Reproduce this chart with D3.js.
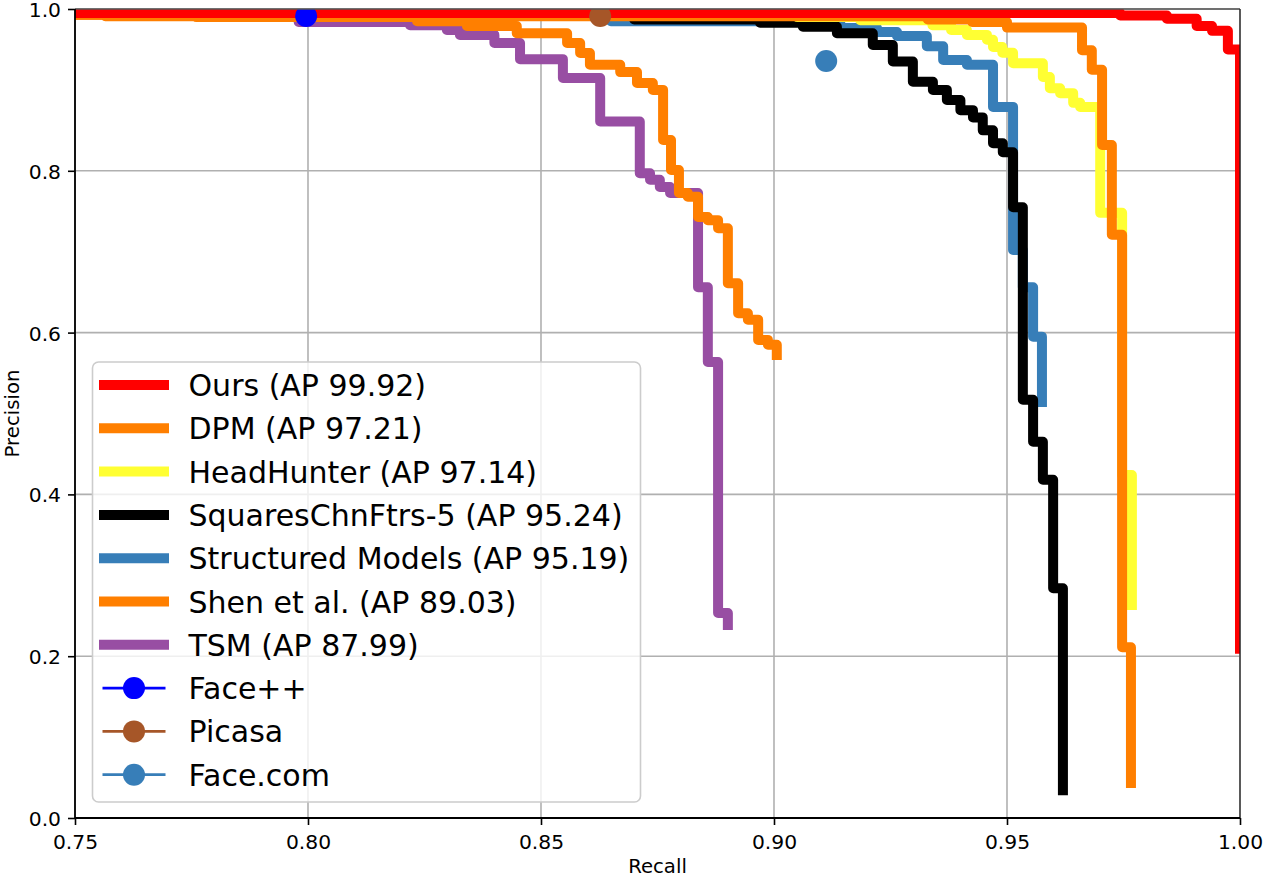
<!DOCTYPE html>
<html>
<head>
<meta charset="utf-8">
<script src="https://cdn.jsdelivr.net/npm/d3@7"></script>
<style>
  body { margin: 0; background: #fff; }
  svg { display: block; font-family: "DejaVu Sans", sans-serif; }
</style>
</head>
<body>
<svg id="chart"></svg>
<script>
// Precision/recall step points: [recall, precision]
const oursPR = [[0.75,0.995],[0.9743,0.992],[0.9843,0.988],[0.9907,0.979],[0.9940,0.973],[0.9974,0.950],[1.0,0.203]];
const dpmPR = [[0.75,0.993],[0.7565,0.992],[0.80,0.991],[0.933,0.987],[0.9425,0.984],[0.950,0.977],[0.9661,0.949],[0.9682,0.925],[0.9704,0.832],[0.9725,0.721],[0.9747,0.211],[0.9766,0.037]];
const headHunterPR = [[0.75,0.995],[0.905,0.990],[0.9185,0.986],[0.934,0.980],[0.938,0.974],[0.9414,0.968],[0.9457,0.962],[0.947,0.953],[0.949,0.946],[0.9513,0.933],[0.9577,0.916],[0.9592,0.902],[0.9614,0.896],[0.9642,0.884],[0.9657,0.879],[0.970,0.748],[0.9747,0.424],[0.9768,0.257]];
const squaresPR = [[0.75,0.994],[0.870,0.987],[0.897,0.983],[0.9062,0.978],[0.9135,0.970],[0.9212,0.9555],[0.9255,0.935],[0.9298,0.910],[0.9341,0.900],[0.9371,0.8875],[0.940,0.875],[0.9427,0.866],[0.9448,0.850],[0.947,0.834],[0.9491,0.823],[0.9513,0.755],[0.9534,0.517],[0.9556,0.465],[0.9577,0.418],[0.9599,0.284],[0.962,0.028]];
const structuredPR = [[0.75,0.994],[0.865,0.985],[0.9142,0.9765],[0.9221,0.9715],[0.9264,0.9666],[0.9328,0.954],[0.9363,0.937],[0.9414,0.931],[0.947,0.879],[0.9513,0.702],[0.9534,0.656],[0.9556,0.595],[0.9575,0.508]];
const shenPR = [[0.75,0.993],[0.7565,0.991],[0.776,0.990],[0.8234,0.985],[0.8341,0.979],[0.8448,0.970],[0.8556,0.958],[0.8584,0.9456],[0.8605,0.931],[0.867,0.922],[0.8706,0.9085],[0.874,0.900],[0.8762,0.838],[0.8779,0.801],[0.8796,0.7726],[0.8815,0.768],[0.8837,0.743],[0.8858,0.739],[0.888,0.729],[0.8901,0.661],[0.8923,0.624],[0.8944,0.616],[0.8966,0.591],[0.8987,0.585],[0.9006,0.566]];
const tsmPR = [[0.75,0.994],[0.798,0.984],[0.8219,0.980],[0.8298,0.974],[0.8326,0.968],[0.8400,0.958],[0.8455,0.938],[0.8547,0.9147],[0.8627,0.861],[0.8712,0.797],[0.8734,0.789],[0.8755,0.780],[0.8777,0.7726],[0.8837,0.656],[0.8858,0.5637],[0.888,0.2534],[0.8901,0.2324]];

const seriesNames = ['Ours (AP 99.92)', 'DPM (AP 97.21)', 'HeadHunter (AP 97.14)', 'SquaresChnFtrs-5 (AP 95.24)',
  'Structured Models (AP 95.19)', 'Shen et al. (AP 89.03)', 'TSM (AP 87.99)'];
const seriesValues = [oursPR, dpmPR, headHunterPR, squaresPR, structuredPR, shenPR, tsmPR];

// single operating points of commercial detectors
const detectorNames = ['Face++', 'Picasa', 'Face.com'];
const detectorPoints = [[0.7996, 0.9913], [0.8627, 0.9913], [0.9112, 0.9357]];

const xTicks = [0.75, 0.80, 0.85, 0.90, 0.95, 1.00];
const yTicks = [0.0, 0.2, 0.4, 0.6, 0.8, 1.0];

// styling
const seriesColors = ['#ff0000', '#ff7f00', '#ffff33', '#000000', '#377eb8', '#ff7f00', '#984ea3'];
const detectorColors = ['#0000ff', '#a65628', '#377eb8'];

const width = 1263, height = 878;
const margin = { top: 9, right: 23, bottom: 60, left: 75 };
const innerWidth = width - margin.left - margin.right;
const innerHeight = height - margin.top - margin.bottom;
const tickFont = 20.3;

const svg = d3.select('#chart').attr('width', width).attr('height', height);

const x = d3.scaleLinear().domain([0.75, 1.0]).range([0, innerWidth]);
const y = d3.scaleLinear().domain([0, 1.0]).range([innerHeight, 0]);

svg.append('defs').append('clipPath').attr('id', 'plotClip')
  .append('rect').attr('width', innerWidth).attr('height', innerHeight);

const g = svg.append('g').attr('transform', `translate(${margin.left},${margin.top})`);

// grid
g.append('g').selectAll('line').data(xTicks).enter().append('line')
  .attr('x1', d => x(d)).attr('x2', d => x(d)).attr('y1', 0).attr('y2', innerHeight)
  .attr('stroke', '#b0b0b0').attr('stroke-width', 1.6);
g.append('g').selectAll('line').data(yTicks).enter().append('line')
  .attr('y1', d => y(d)).attr('y2', d => y(d)).attr('x1', 0).attr('x2', innerWidth)
  .attr('stroke', '#b0b0b0').attr('stroke-width', 1.6);

// curves, drawn last-to-first so "Ours" sits on top
const line = d3.line()
  .x(d => x(d[0]))
  .y(d => y(d[1]))
  .curve(d3.curveStepAfter);

const plot = g.append('g').attr('clip-path', 'url(#plotClip)');
const order = d3.range(seriesValues.length).reverse();
order.forEach(i => {
  plot.append('path')
    .attr('d', line(seriesValues[i]))
    .attr('fill', 'none')
    .attr('stroke', seriesColors[i])
    .attr('stroke-width', 10)
    .attr('stroke-linejoin', 'round')
    .attr('stroke-linecap', 'butt');
});

plot.selectAll('.detector').data(detectorPoints).enter().append('circle')
  .attr('class', 'detector')
  .attr('cx', d => x(d[0]))
  .attr('cy', d => y(d[1]))
  .attr('r', 11)
  .attr('fill', (d, i) => detectorColors[i]);

// axes
const xAxis = g.append('g')
  .attr('transform', `translate(0,${innerHeight})`)
  .call(d3.axisBottom(x).tickValues(xTicks).tickFormat(d3.format('.2f')).tickSize(7).tickSizeOuter(0));
const yAxis = g.append('g')
  .call(d3.axisLeft(y).tickValues(yTicks).tickFormat(d3.format('.1f')).tickSize(7).tickSizeOuter(0));

[xAxis, yAxis].forEach(ax => {
  ax.select('.domain').remove();
  ax.selectAll('line').attr('stroke', '#000').attr('stroke-width', 1.6);
  ax.selectAll('text').attr('font-size', tickFont).attr('fill', '#000').attr('font-family', '"DejaVu Sans", sans-serif');
});
// explicit label placement (baseline offsets in px)
xAxis.selectAll('text').attr('y', 31).attr('dy', null);
yAxis.selectAll('text').attr('x', -14).attr('dy', 7.4);

// spines
g.append('line').attr('x1', 0).attr('x2', innerWidth).attr('y1', 0).attr('y2', 0).attr('stroke', '#555').attr('stroke-width', 1.3);
g.append('line').attr('x1', innerWidth).attr('x2', innerWidth).attr('y1', 0).attr('y2', innerHeight).attr('stroke', '#222').attr('stroke-width', 1.3);
g.append('line').attr('x1', 0).attr('x2', 0).attr('y1', 0).attr('y2', innerHeight).attr('stroke', '#000').attr('stroke-width', 1.8);
g.append('line').attr('x1', 0).attr('x2', innerWidth).attr('y1', innerHeight).attr('y2', innerHeight).attr('stroke', '#000').attr('stroke-width', 2);

// axis labels
svg.append('text')
  .attr('x', margin.left + innerWidth / 2).attr('y', 873)
  .attr('text-anchor', 'middle').attr('font-size', 19.7).text('Recall');
svg.append('text')
  .attr('transform', `translate(19,${margin.top + innerHeight / 2}) rotate(-90)`)
  .attr('text-anchor', 'middle').attr('font-size', 19.7).text('Precision');

// legend
const legend = svg.append('g').attr('transform', 'translate(92.5,362)');
legend.append('rect')
  .attr('width', 548).attr('height', 440).attr('rx', 6)
  .attr('fill', '#fff').attr('fill-opacity', 0.8)
  .attr('stroke', '#cccccc').attr('stroke-width', 1.6);

const rowGap = 43.3;
const firstRow = 23;
seriesNames.forEach((name, i) => {
  const ry = firstRow + i * rowGap;
  legend.append('line')
    .attr('x1', 6.5).attr('x2', 76.5).attr('y1', ry).attr('y2', ry)
    .attr('stroke', seriesColors[i]).attr('stroke-width', 10);
  legend.append('text')
    .attr('x', 96).attr('y', ry + 11)
    .attr('font-size', 30).text(name);
});
detectorNames.forEach((name, j) => {
  const ry = firstRow + (seriesNames.length + j) * rowGap;
  legend.append('line')
    .attr('x1', 10).attr('x2', 73).attr('y1', ry).attr('y2', ry)
    .attr('stroke', detectorColors[j]).attr('stroke-width', 2.8);
  legend.append('circle')
    .attr('cx', 41.5).attr('cy', ry).attr('r', 11)
    .attr('fill', detectorColors[j]);
  legend.append('text')
    .attr('x', 96).attr('y', ry + 11)
    .attr('font-size', 30).text(name);
});
</script>
</body>
</html>
